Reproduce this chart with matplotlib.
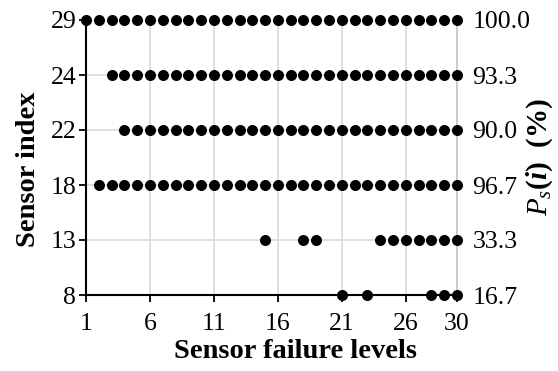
import matplotlib
matplotlib.use("Agg")
import matplotlib.pyplot as plt

plt.rcParams['font.family'] = ['Liberation Serif', 'DejaVu Serif']
plt.rcParams['mathtext.fontset'] = 'custom'
plt.rcParams['mathtext.rm'] = 'Liberation Serif'
plt.rcParams['mathtext.it'] = 'Liberation Serif:italic'
plt.rcParams['mathtext.bf'] = 'Liberation Serif:bold'
plt.rcParams['mathtext.bfit'] = 'Liberation Serif:bold:italic'

# Sensors (bottom to top) and the failure levels at which each one is selected
sensor_ids = [8, 13, 18, 22, 24, 29]
selected_levels = {
    8: [21, 23, 28, 29, 30],
    13: [15, 18, 19, 24, 25, 26, 27, 28, 29, 30],
    18: list(range(2, 31)),
    22: list(range(4, 31)),
    24: list(range(3, 31)),
    29: list(range(1, 31)),
}
ps_percent = [16.7, 33.3, 96.7, 90.0, 93.3, 100.0]
x_ticks = [1, 6, 11, 16, 21, 26, 30]

W, H = 558, 371
fig = plt.figure(figsize=(W / 100, H / 100), dpi=100)
ax = fig.add_axes([86 / W, 1 - 295 / H, (457 - 86) / W, (295 - 20) / H])

for row, sid in enumerate(sensor_ids):
    xs = selected_levels[sid]
    ax.scatter(xs, [row] * len(xs), s=48, color='black', zorder=3, clip_on=False)

ax.set_xlim(1, 30)
ax.set_ylim(0, len(sensor_ids) - 1)
ax.set_xticks(x_ticks)
ax.set_yticks(range(len(sensor_ids)))
ax.set_yticklabels([str(s) for s in sensor_ids])
ax.grid(True, color='#dcdcdc', linewidth=1.3, zorder=0)
ax.set_axisbelow(True)

ax.spines['top'].set_visible(False)
ax.spines['right'].set_color('#c8c8c8')
ax.spines['right'].set_linewidth(1.3)
ax.spines['left'].set_linewidth(1.5)
ax.spines['bottom'].set_linewidth(1.5)

ax.tick_params(axis='both', which='major', labelsize=18.5, direction='out',
               length=5, width=1.3)
ax.tick_params(axis='x', pad=8)
ax.tick_params(axis='y', pad=2)

ax2 = ax.twinx()
ax2.set_ylim(ax.get_ylim())
ax2.set_yticks(range(len(sensor_ids)))
ax2.set_yticklabels([f'{v:.1f}' for v in ps_percent])
ax2.tick_params(axis='y', labelsize=18.5, length=0, pad=11)
for side in ('top', 'left', 'bottom', 'right'):
    ax2.spines[side].set_visible(False)

# Axis titles placed in figure pixel coordinates
fig.text(295 / W, 1 - 351 / H, 'Sensor failure levels', fontsize=20.5,
         fontweight='bold', ha='center', va='center')
fig.text(29 / W, 1 - 169 / H, 'Sensor index', fontsize=20.5,
         fontweight='bold', rotation=90, ha='center', va='center')
fig.text(540 / W, 1 - 157 / H, r'$\boldsymbol{P_s(i)}$  (%)', fontsize=21,
         fontweight='bold', rotation=90, ha='center', va='center')

fig.savefig('out.png', dpi=100)
